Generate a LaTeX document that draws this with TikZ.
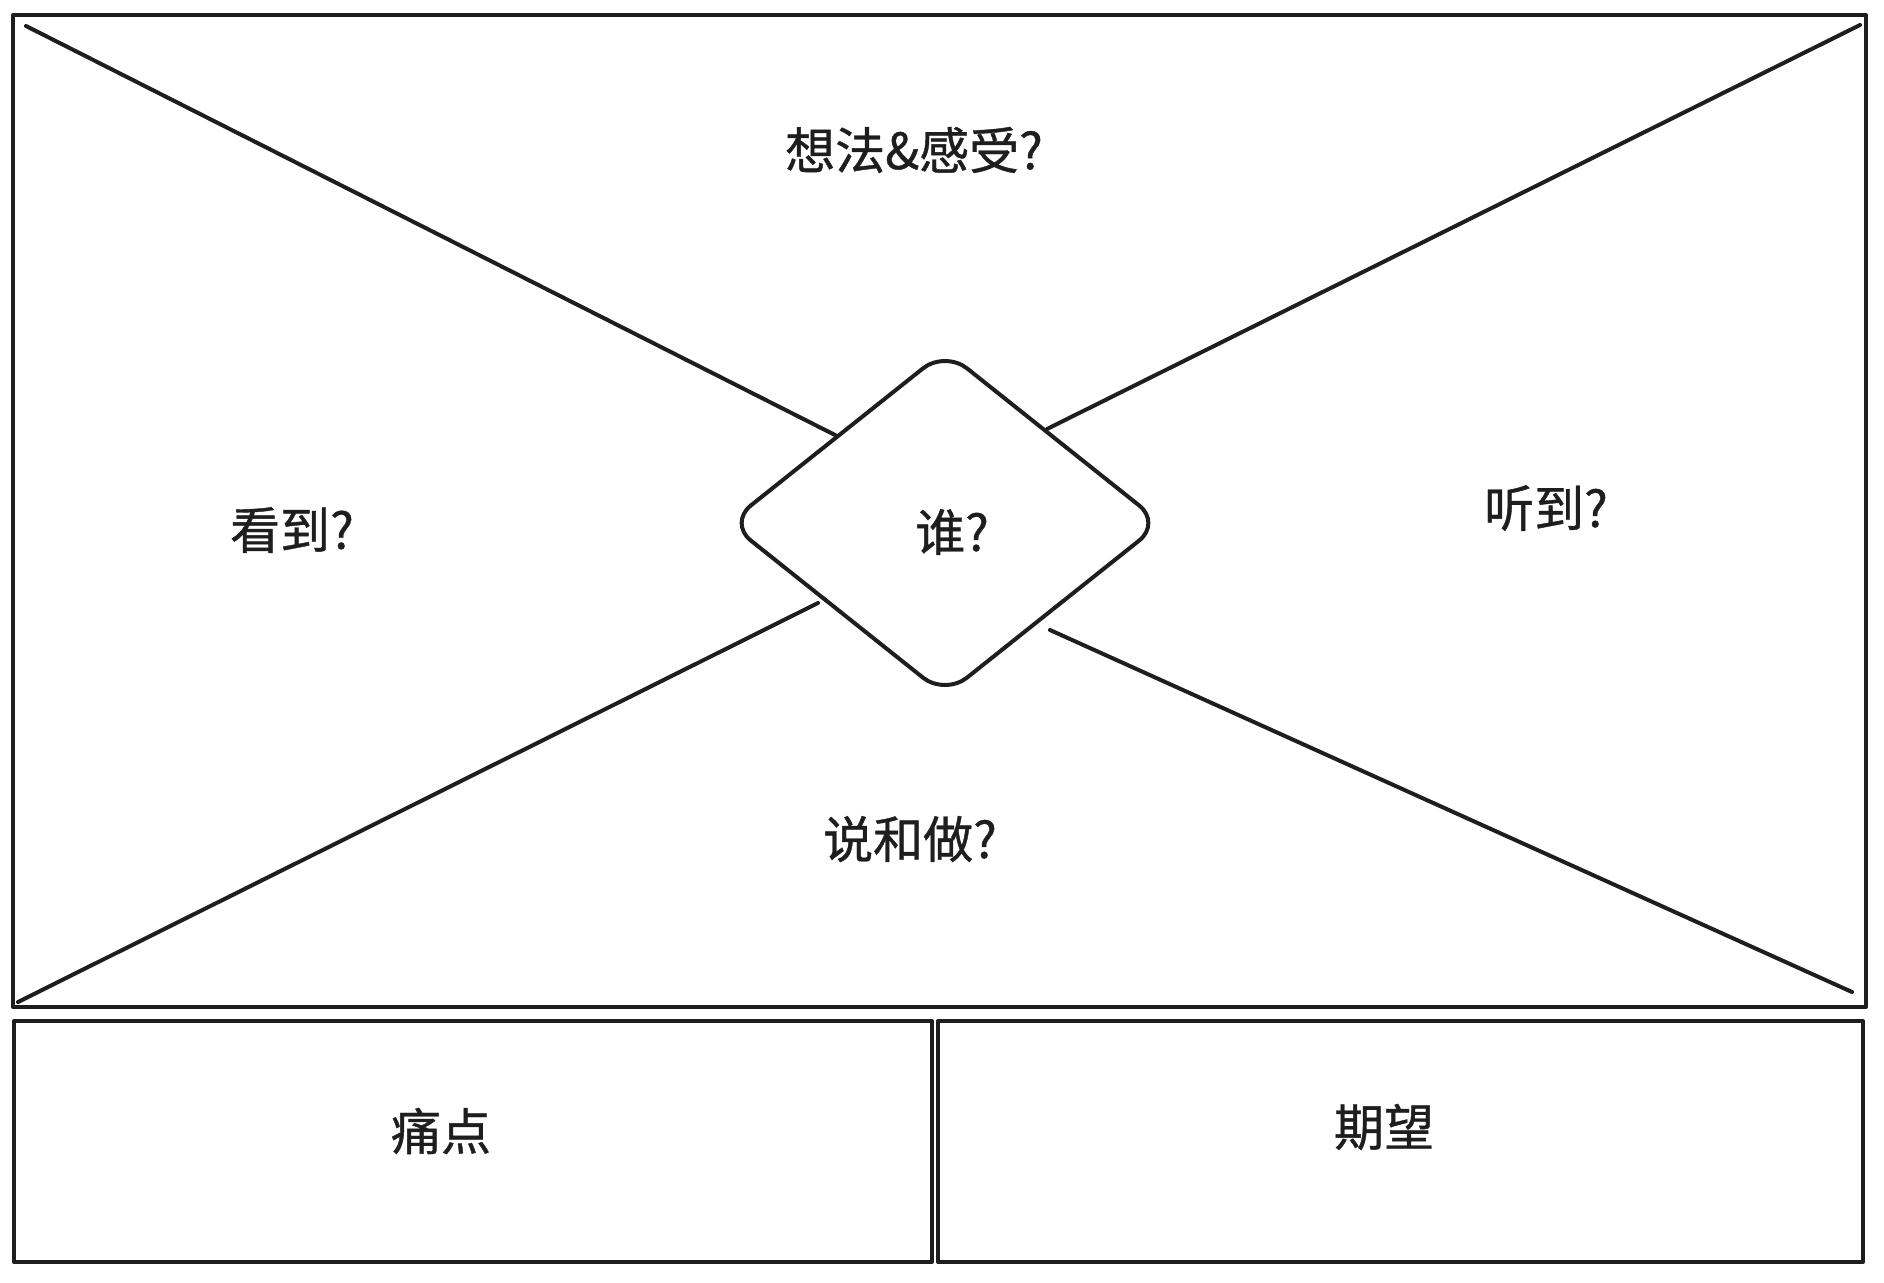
\documentclass[tikz,border=0pt]{standalone}
\usepackage{fontspec}
\setmainfont{Noto Sans CJK SC}[FakeBold=0.8]
\usetikzlibrary{shapes.geometric}
\definecolor{ink}{HTML}{1E1E1E}
\tikzset{
  stroke/.style={draw=ink, line width=4pt, line cap=round, line join=round},
  label/.style={text=ink, font=\fontsize{50}{60}\selectfont, inner sep=0pt},
  panel/.style={stroke, rectangle, inner sep=0pt},
}
\begin{document}
\begin{tikzpicture}[x=1pt,y=-1pt]
\useasboundingbox (0,0) rectangle (1884,1282);
\fill[white] (0,0) rectangle (1884,1282);
% main frame
\node[panel, minimum width=1853pt, minimum height=992pt] (frame) at (939.5,511) {};
% bottom boxes
\node[panel, minimum width=918pt, minimum height=241pt] (painbox) at (473,1141.5) {};
\node[panel, minimum width=925pt, minimum height=241pt] (wishbox) at (1400.5,1141.5) {};
% diamond
\node[stroke, diamond, rounded corners=28pt, minimum width=434pt, minimum height=346pt, inner sep=0pt] (who) at (945,523) {};
% connector endpoints
\coordinate (tlc) at (26,26);
\coordinate (trc) at (1860,25);
\coordinate (blc) at (18,1002);
\coordinate (brc) at (1852,992);
\coordinate (tle) at (837,436);
\coordinate (tre) at (1047,429);
\coordinate (ble) at (818,603);
\coordinate (bre) at (1050,630);
\draw[stroke] (tlc) -- (tle);
\draw[stroke] (trc) -- (tre);
\draw[stroke] (blc) -- (ble);
\draw[stroke] (bre) -- (brc);
% labels
\node[label] (think) at (914,150) {想法\&感受?};
\node[label] (see) at (292,530) {看到?};
\node[label] (whot) at (952,532) {谁?};
\node[label] (hear) at (1546,508) {听到?};
\node[label] (say) at (910,839) {说和做?};
\node[label] (pain) at (441,1131) {痛点};
\node[label] (wish) at (1384,1127) {期望};
\end{tikzpicture}
\end{document}
